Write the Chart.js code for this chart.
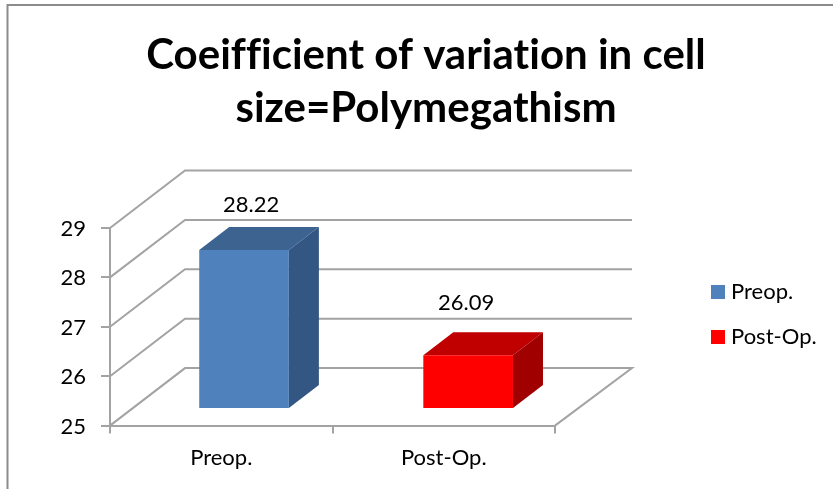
<!DOCTYPE html>
<html><head><meta charset="utf-8">
<style>html,body{margin:0;padding:0;background:#fff}canvas{display:block}</style>
<script src="https://cdn.jsdelivr.net/npm/chart.js@4"></script>
</head><body>
<canvas id="c" width="833" height="489"></canvas>
<script>
const categories = ["Preop.", "Post-Op."];
const preopValues = [28.22, null];
const postOpValues = [null, 26.09];
const seriesNames = ["Preop.", "Post-Op."];
const titleLines = ["Coeifficient of variation in cell", "size=Polymegathism"];
const axisMin = 25;
const axisMax = 29;

const FONT = "Lato";
const GRID = "#a3a3a3";
const WALL = {dx: 75, dy: -57.5};
const BAR_SHIFT_Y = -16.6;
const BAR_DEPTH = {dx: 30, dy: -23};
const faces = [
  {front: "#4f81bd", top: "#3d6391", side: "#345682", shiftX: 22.8, labelDx: 7, labelY: -45.5},
  {front: "#ff0000", top: "#c00000", side: "#a00000", shiftX: 24.4, labelDx: -2, labelY: -52.5}
];

const threeD = {
  id: "threeD",
  afterLayout(chart) {
    const t = chart.titleBlock; t.left = 19; t.right = 833;
    const l = chart.legend; const h = l.bottom - l.top;
    l.left = 693; l.right = 833; l.top = 258; l.bottom = 258 + h;
  },
  beforeDraw(chart) {
    const c = chart.ctx;
    c.letterSpacing = "0.01px";
    c.save();
    c.strokeStyle = "#8c8c8c"; c.lineWidth = 2;
    c.beginPath(); c.moveTo(7.5, 489); c.lineTo(7.5, 5); c.lineTo(833, 5); c.stroke();
    c.restore();
  },
  beforeDatasetsDraw(chart) {
    const c = chart.ctx, y = chart.scales.y, a = chart.chartArea;
    c.save();
    c.strokeStyle = GRID; c.lineWidth = 2;
    y.ticks.forEach((t, i) => {
      const py = y.getPixelForTick(i);
      c.beginPath();
      c.moveTo(a.left, py);
      c.lineTo(a.left + WALL.dx, py + WALL.dy);
      c.lineTo(a.right + WALL.dx + 2, py + WALL.dy);
      if (i === 0) c.lineTo(a.right, py);
      c.stroke();
    });
    c.restore();
  },
  beforeDatasetDraw(chart, args) {
    const c = chart.ctx, f = faces[args.index], ds = chart.data.datasets[args.index];
    c.save();
    c.translate(f.shiftX, BAR_SHIFT_Y);
    chart.getDatasetMeta(args.index).data.forEach((el, i) => {
      if (ds.data[i] == null) return;
      const L = el.x - el.width / 2, R = el.x + el.width / 2, T = el.y, B = el.base;
      const dx = BAR_DEPTH.dx, dy = BAR_DEPTH.dy;
      c.fillStyle = f.top;
      c.beginPath(); c.moveTo(L, T); c.lineTo(L + dx, T + dy); c.lineTo(R + dx, T + dy); c.lineTo(R, T); c.closePath(); c.fill();
      c.fillStyle = f.side;
      c.beginPath(); c.moveTo(R, T); c.lineTo(R + dx, T + dy); c.lineTo(R + dx, B + dy); c.lineTo(R, B); c.closePath(); c.fill();
    });
  },
  afterDatasetDraw(chart, args) {
    const c = chart.ctx, f = faces[args.index];
    c.restore();
    c.save();
    c.font = "22px " + FONT; c.fillStyle = "#000"; c.textAlign = "center"; c.textBaseline = "middle";
    const ds = chart.data.datasets[args.index];
    chart.getDatasetMeta(args.index).data.forEach((el, i) => {
      if (ds.data[i] == null) return;
      c.fillText(ds.data[i].toFixed(2), el.x + f.shiftX + f.labelDx, el.y + BAR_SHIFT_Y + f.labelY);
    });
    c.restore();
  }
};

new Chart(document.getElementById("c"), {
  type: "bar",
  data: {
    labels: categories,
    datasets: [
      {label: seriesNames[0], data: preopValues, backgroundColor: faces[0].front, clip: false, base: axisMin},
      {label: seriesNames[1], data: postOpValues, backgroundColor: faces[1].front, clip: false, base: axisMin}
    ]
  },
  options: {
    responsive: false, animation: false,
    grouped: false,
    categoryPercentage: 1, barPercentage: 0.403,
    layout: {padding: {left: 10, right: 278, top: 0, bottom: 0}},
    scales: {
      x: {
        afterFit(s) { s.height = 63.4; },
        grid: {drawOnChartArea: false, color: GRID, lineWidth: 2, tickLength: 8, tickColor: GRID},
        border: {color: GRID, width: 2},
        ticks: {color: "#000", font: {family: FONT, size: 22}, padding: 11}
      },
      y: {
        min: axisMin, max: axisMax,
        afterFit(s) { s.width = 100; },
        grid: {drawOnChartArea: false, color: GRID, lineWidth: 2, tickLength: 9, tickColor: GRID},
        border: {color: GRID, width: 2},
        ticks: {stepSize: 1, color: "#000", font: {family: FONT, size: 22}, padding: 15, labelOffset: 1}
      }
    },
    plugins: {
      tooltip: {enabled: false},
      title: {
        display: true, text: titleLines, color: "#000",
        font: {family: FONT, size: 42, weight: "bold", lineHeight: 53 / 42},
        padding: {top: 29, bottom: 93}
      },
      legend: {
        display: true, position: "chartArea", align: "start",
        labels: {
          boxWidth: 4, boxHeight: 4, padding: 23, color: "#000",
          font: {family: FONT, size: 22},
          generateLabels(chart) {
            return chart.data.datasets.map((d, i) => ({
              text: d.label, fillStyle: d.backgroundColor, strokeStyle: d.backgroundColor,
              lineWidth: 10, datasetIndex: i, hidden: false
            }));
          }
        }
      }
    }
  },
  plugins: [threeD]
});
</script>
</body></html>
